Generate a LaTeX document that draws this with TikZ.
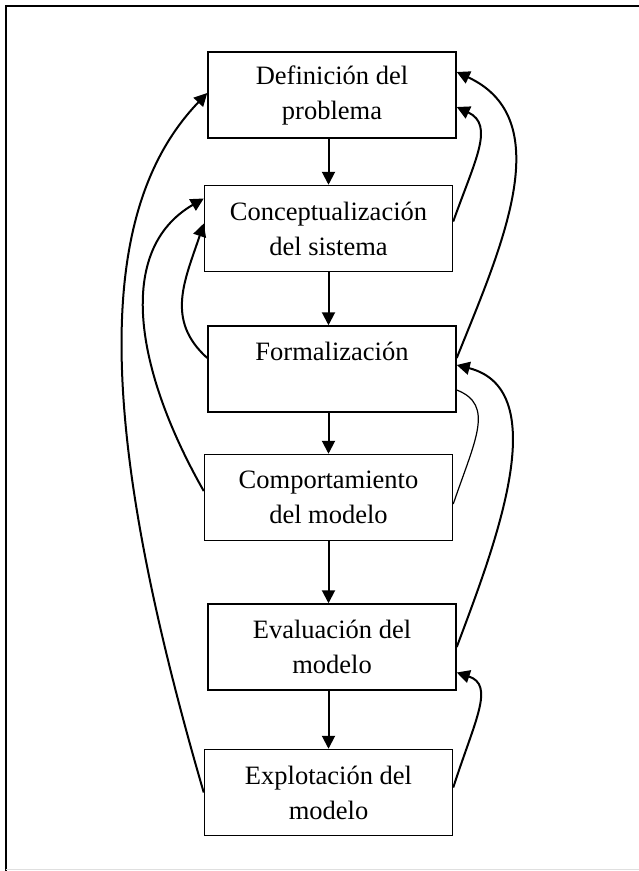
\documentclass[tikz,border=0pt]{standalone}
\usepackage{fontspec}
\setmainfont{Liberation Serif}
\usetikzlibrary{positioning,arrows.meta}

\tikzset{
    caja/.style = {draw, line width=1.5pt, minimum width=248pt, minimum height=86pt,
                   inner sep=0pt, align=center, font=\fontsize{26.5}{35}\selectfont},
    flecha/.style = {line width=2pt, -{Triangle[length=13pt,width=13pt]}},
    retorno/.style = {line width=1.2pt}
}

\begin{document}
\begin{tikzpicture}[x=1pt, y=-1pt]
        \useasboundingbox (0,0) rectangle (639,871);
        \draw[line width=2pt] (5.5,871) -- (5.5,5.5) -- (639,5.5);
        \draw[gray!25, line width=1pt] (5.5,869.5) -- (639,869.5);

        \node[caja] (def) at (332,95) {Definición del\\problema};
        \node[caja, below = 46pt of def, xshift = -3.5pt] (conc) {Conceptualización\\del sistema};
        \node[caja, below = 53pt of conc, xshift = 3.5pt] (form) {Formalización\\\mbox{}};
        \node[caja, below = 41pt of form, xshift = -3.5pt] (comp) {Comportamiento\\del modelo};
        \node[caja, below = 62pt of comp, xshift = 3.5pt] (eval) {Evaluación del\\modelo};
        \node[caja, below = 58pt of eval, xshift = -3.5pt] (expl) {Explotación del\\modelo};

        \draw[flecha] (def.south -| conc) -- (conc.north);
        \draw[flecha] (conc.south) -- (form.north -| conc);
        \draw[flecha] (form.south -| conc) -- (comp.north);
        \draw[flecha] (comp.south) -- (eval.north -| comp);
        \draw[flecha] (eval.south -| comp) -- (expl.north);

        \draw[flecha] ([yshift=7pt]conc.east) .. controls (475,160) and (495,125) .. ([yshift=-12pt]def.east);
        \draw[flecha] ([yshift=11pt]form.east) .. controls (500,250) and (560,120) .. ([yshift=23pt]def.east);
        \draw[retorno] ([yshift=-6.5pt]comp.east) .. controls (475,440) and (495,405) .. ([yshift=-21pt]form.east);
        \draw[flecha] (eval.east) .. controls (495,545) and (555,390) .. ([yshift=4pt]form.east);
        \draw[flecha] ([yshift=5pt]expl.east) .. controls (475,720) and (495,685) .. ([yshift=-25.5pt]eval.east);

        \draw[flecha] (expl.west) .. controls (95,420) and (95,210) .. ([yshift=2pt]def.west);
        \draw[flecha] ([yshift=6.5pt]comp.west) .. controls (135,370) and (115,250) .. ([yshift=30pt]conc.west);
        \draw[flecha] ([yshift=11pt]form.west) .. controls (165,320) and (185,280) .. ([yshift=5pt]conc.west);
\end{tikzpicture}
\end{document}
